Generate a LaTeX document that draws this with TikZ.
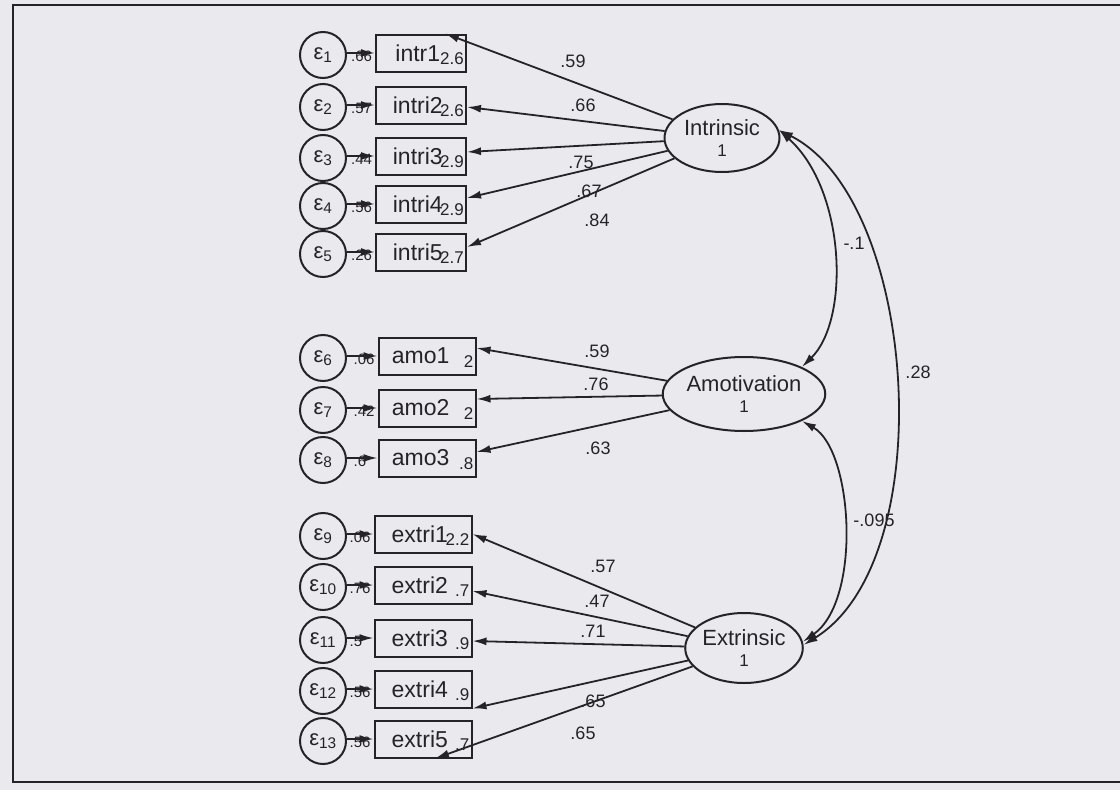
\documentclass[tikz,border=0pt]{standalone}
\usepackage{fontspec}
\setmainfont{Liberation Sans}
\usetikzlibrary{arrows.meta,calc,shapes.geometric}
\definecolor{bg}{RGB}{234,234,238}
\definecolor{ink}{RGB}{38,35,40}
\begin{document}
\begin{tikzpicture}[x=1pt,y=-1pt,
  obs/.style={draw=ink, line width=2pt, minimum height=37pt, inner sep=0pt, font=\fontsize{23}{23}\selectfont, text=ink},
  err/.style={circle, draw=ink, line width=2pt, minimum size=46pt, inner sep=0pt, font=\fontsize{22}{22}\selectfont, text=ink},
  lat/.style={ellipse, draw=ink, line width=2pt, minimum width=115pt, minimum height=68pt, inner sep=0pt, align=center, font=\fontsize{22}{21}\selectfont, text=ink},
  arr/.style={draw=ink, line width=1.8pt, -{Latex[length=14pt,width=8pt]}},
  cov/.style={draw=ink, line width=1.8pt, {Latex[length=14pt,width=8pt]}-{Latex[length=14pt,width=8pt]}},
  lbl/.style={font=\fontsize{18}{18}\selectfont, text=ink, inner sep=0pt},
  val/.style={font=\fontsize{17}{17}\selectfont, text=ink, inner sep=0pt, anchor=east},
  elbl/.style={font=\fontsize{15}{15}\selectfont, text=ink, inner sep=0pt, anchor=west},
  frame/.style={draw=ink, line width=2pt}
]
\fill[bg] (0,0) rectangle (1120,790);
\useasboundingbox (0,0) rectangle (1120,790);

% frame
\coordinate (ftl) at (13,5);
\coordinate (ftr) at (1120,5);
\coordinate (fbl) at (13,782);
\coordinate (fbr) at (1120,782);
\draw[frame] (ftr) -- (ftl) -- (fbl) -- (fbr);

% latent variables
\node[lat] (Int) at (722,138) {Intrinsic\\{\fontsize{17}{17}\selectfont 1}};
\node[lat, minimum height=74pt] (Amo) at (744,394) {Amotivation\\{\fontsize{17}{17}\selectfont 1}};
\node[lat, minimum height=70pt] (Ext) at (744,648) {Extrinsic\\{\fontsize{17}{17}\selectfont 1}};

% observed boxes
\node[obs, minimum width=90pt] (i1) at (421,53) {intr1\phantom{.}};
\node[obs, minimum width=90pt] (i2) at (421,105) {intri2\phantom{.}};
\node[obs, minimum width=90pt] (i3) at (421,156) {intri3\phantom{.}};
\node[obs, minimum width=90pt] (i4) at (421,204) {intri4\phantom{.}};
\node[obs, minimum width=90pt] (i5) at (421,252) {intri5\phantom{.}};
\node[obs, minimum width=97pt] (a1) at (427,356) {amo1\phantom{..}};
\node[obs, minimum width=97pt] (a2) at (427,408) {amo2\phantom{..}};
\node[obs, minimum width=97pt] (a3) at (427,458) {amo3\phantom{..}};
\node[obs, minimum width=97pt] (x1) at (423,534) {extri1\phantom{.}};
\node[obs, minimum width=97pt] (x2) at (423,585) {extri2\phantom{.}};
\node[obs, minimum width=97pt] (x3) at (423,638) {extri3\phantom{.}};
\node[obs, minimum width=97pt] (x4) at (423,689) {extri4\phantom{.}};
\node[obs, minimum width=97pt] (x5) at (423,739) {extri5\phantom{.}};

% values in boxes
\foreach \b/\v in {i1/2.6,i2/2.6,i3/2.9,i4/2.9,i5/2.7,a1/2,a2/2,a3/.8,x1/2.2,x2/.7,x3/.9,x4/.9,x5/.7}
  \node[val] at ($(\b.east)+(-3,6)$) {\v};

% error circles
\coordinate (ecol) at (323,0);
\foreach \e/\b/\n/\l in {e1/i1/1/.66,e2/i2/2/.57,e3/i3/3/.44,e4/i4/4/.56,e5/i5/5/.26,
                        e6/a1/6/.06,e7/a2/7/.42,e8/a3/8/.6,
                        e9/x1/9/.06,e10/x2/10/.76,e11/x3/11/.5,e12/x4/12/.56,e13/x5/13/.56}{
  \node[err] (\e) at ($(ecol |- \b)+(0,2)$) {ε\textsubscript{\n}};
  \node[elbl] at ($(\b.west)+(-24,3)$) {\l};
  \draw[arr] (\e.east |- \b) -- (\b);
}

% loadings Intrinsic
\draw[arr] (Int) -- ($(i1.north)+(24,0)$);
\draw[arr] (Int) -- ($(i2.east)+(0,2)$);
\draw[arr] (Int) -- ($(i3.east)+(0,-4)$);
\draw[arr] (Int) -- ($(i4.east)+(0,-6)$);
\draw[arr] (Int) -- ($(i5.east)+(0,-5)$);
% loadings Amotivation
\draw[arr] (Amo) -- ($(a1.east)+(0,-8)$);
\draw[arr] (Amo) -- ($(a2.east)+(0,-9)$);
\draw[arr] (Amo) -- ($(a3.east)+(0,-6)$);
% loadings Extrinsic
\draw[arr] (Ext) -- (x1.east);
\draw[arr] (Ext) -- ($(x2.east)+(0,6)$);
\draw[arr] (Ext) -- ($(x3.east)+(0,3)$);
\draw[arr] (Ext) -- (x4.south east);
\draw[arr] (Ext) -- ($(x5.south)+(12,0)$);

% loading labels
\node[lbl] (l1) at (573,61) {.59};
\node[lbl] (l2) at (583,105) {.66};
\node[lbl] (l3) at (581,162) {.75};
\node[lbl] (l4) at (589,191) {.67};
\node[lbl] (l5) at (597,220) {.84};
\node[lbl] (l6) at (597,351) {.59};
\node[lbl] (l7) at (596,384) {.76};
\node[lbl] (l8) at (598,448) {.63};
\node[lbl] (l9) at (603,566) {.57};
\node[lbl] (l10) at (597,601) {.47};
\node[lbl] (l11) at (593,631) {.71};
\node[lbl] (l12) at (593,701) {.65};
\node[lbl] (l13) at (583,733) {.65};

% covariances
\draw[cov] (Int.8) .. controls (846,190) and (850,320) .. (Amo.25);
\draw[cov] (Int.8) .. controls (918,200) and (942,560) .. (Ext.3);
\draw[cov] (Amo.-25) .. controls (853,450) and (862,600) .. (Ext.6);
\node[lbl] (c1) at (854,243) {-.1};
\node[lbl] (c2) at (918,372) {.28};
\node[lbl] (c3) at (874,520) {-.095};
\end{tikzpicture}
\end{document}
